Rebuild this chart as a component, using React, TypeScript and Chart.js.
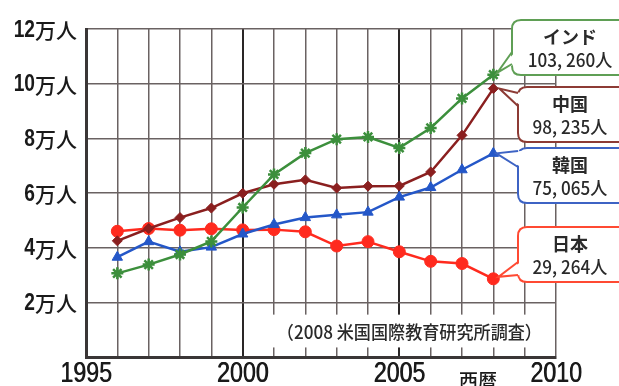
import React, { useEffect, useRef } from "react";
import { Chart, registerables } from "chart.js";

Chart.register(...registerables);

const years = [1996, 1997, 1998, 1999, 2000, 2001, 2002, 2003, 2004, 2005, 2006, 2007, 2008];
const india = [3.06, 3.38, 3.75, 4.23, 5.47, 6.68, 7.46, 7.97, 8.05, 7.65, 8.38, 9.46, 10.33];
const china = [4.25, 4.7, 5.1, 5.45, 5.99, 6.32, 6.48, 6.18, 6.25, 6.26, 6.77, 8.11, 9.82];
const korea = [3.65, 4.22, 3.85, 4.02, 4.5, 4.85, 5.1, 5.2, 5.3, 5.85, 6.2, 6.85, 7.45];
const japan = [4.6, 4.7, 4.64, 4.69, 4.65, 4.66, 4.58, 4.06, 4.22, 3.85, 3.5, 3.42, 2.86];

const seriesNames = ["インド", "中国", "韓国", "日本"];
const totals = [103260, 98235, 75065, 29264];
const yTicks = [2, 4, 6, 8, 10, 12];
const xTickLabels = [1995, 2000, 2005, 2010];
const sourceNote = "（2008 米国国際教育研究所調査）";
const xAxisTitle = "西暦";

const colors = ["#3c8f3c", "#8a1f1f", "#2457c8", "#ff2a1e"];
const boxColors = ["#5f9f55", "#8d3b35", "#3d63c4", "#ff4a33"];

const NUM = '"Liberation Sans", "DejaVu Sans", sans-serif';
const CJK = '"Noto Sans CJK JP", sans-serif';

const fmt = (n: number) => {
  const s = String(n);
  return s.slice(0, s.length - 3) + ", " + s.slice(s.length - 3) + "人";
};

const callouts = [
  { left: 512, top: 20, h: 55, ya: 52, yb: 64, tdx: 4, tdy: -2 },
  { left: 518, top: 87, h: 55, ya: 93, yb: 106, tdx: 6, tdy: 0 },
  { left: 518, top: 148, h: 55, ya: 151, yb: 167, tdx: 3, tdy: 0 },
  { left: 518, top: 227, h: 55, ya: 262, yb: 275, tdx: 5, tdy: -2 },
];

function roundRect(ctx: CanvasRenderingContext2D, x: number, y: number, w: number, h: number, r: number) {
  ctx.beginPath();
  ctx.moveTo(x + r, y);
  ctx.lineTo(x + w - r, y);
  ctx.quadraticCurveTo(x + w, y, x + w, y + r);
  ctx.lineTo(x + w, y + h - r);
  ctx.quadraticCurveTo(x + w, y + h, x + w - r, y + h);
  ctx.lineTo(x + r, y + h);
  ctx.quadraticCurveTo(x, y + h, x, y + h - r);
  ctx.lineTo(x, y + r);
  ctx.quadraticCurveTo(x, y, x + r, y);
  ctx.closePath();
}

function narrowText(ctx: CanvasRenderingContext2D, text: string, x: number, y: number, sx: number, align: "left" | "right" | "center") {
  const w = ctx.measureText(text).width * sx;
  let left = x;
  if (align === "right") left = x - w;
  if (align === "center") left = x - w / 2;
  ctx.save();
  ctx.textAlign = "left";
  ctx.translate(left, y);
  ctx.scale(sx, 1);
  ctx.fillText(text, 0, 0);
  ctx.restore();
  return w;
}

const decorPlugin = {
  id: "decor",
  beforeDatasetsDraw(chart: any) {
    const ctx = chart.ctx as CanvasRenderingContext2D;
    const xs = chart.scales.x;
    const ys = chart.scales.y;
    const x0 = xs.getPixelForValue(2000.45);
    const x1 = xs.getPixelForValue(2010) - 1;
    const yTop = ys.getPixelForValue(1.55);
    const yBot = ys.getPixelForValue(0.35);
    ctx.save();
    ctx.fillStyle = "#ffffff";
    ctx.fillRect(x0, yTop, x1 - x0, yBot - yTop);
    ctx.fillStyle = "#2a2a2a";
    ctx.font = `500 18px ${CJK}`;
    ctx.textBaseline = "middle";
    narrowText(ctx, sourceNote, (xs.getPixelForValue(2000.8) + x1) / 2 - 2, (yTop + yBot) / 2 + 1, 0.95, "center");
    ctx.restore();
  },
  afterDraw(chart: any) {
    const ctx = chart.ctx as CanvasRenderingContext2D;
    const xs = chart.scales.x;
    const ys = chart.scales.y;
    ctx.save();
    ctx.fillStyle = "#1a1a1a";
    ctx.textBaseline = "middle";
    yTicks.forEach((v) => {
      const y = ys.getPixelForValue(v);
      ctx.font = `500 21px ${CJK}`;
      const unit = "万人";
      const uw = narrowText(ctx, unit, 77, y + 1, 1.0, "right");
      ctx.font = `bold 24px ${NUM}`;
      narrowText(ctx, String(v), 77 - uw, y + 1, 0.8, "right");
    });
    ctx.textBaseline = "top";
    ctx.font = `29px ${NUM}`;
    xTickLabels.forEach((v) => {
      const x = xs.getPixelForValue(v);
      narrowText(ctx, String(v), x, 359, 0.8, "center");
      narrowText(ctx, String(v), x + 0.6, 359, 0.8, "center");
    });
    ctx.font = `500 19px ${CJK}`;
    ctx.textAlign = "center";
    ctx.fillText(xAxisTitle, 478, 371);

    callouts.forEach((c, i) => {
      const meta = chart.getDatasetMeta(i);
      const pt = meta.data[meta.data.length - 1];
      const tipX = pt.x + c.tdx;
      const tipY = pt.y + c.tdy;
      ctx.lineWidth = 2;
      ctx.strokeStyle = boxColors[i];
      ctx.fillStyle = "#ffffff";
      roundRect(ctx, c.left, c.top, 140, c.h, 9);
      ctx.fill();
      ctx.stroke();
      ctx.beginPath();
      ctx.moveTo(c.left + 3, c.ya);
      ctx.lineTo(tipX, tipY);
      ctx.lineTo(c.left + 3, c.yb);
      ctx.closePath();
      ctx.fill();
      ctx.beginPath();
      ctx.moveTo(c.left, c.ya);
      ctx.lineTo(tipX, tipY);
      ctx.lineTo(c.left, c.yb);
      ctx.stroke();
      ctx.fillStyle = "#2a2a2a";
      ctx.textBaseline = "middle";
      ctx.font = `bold 18px ${CJK}`;
      narrowText(ctx, seriesNames[i], 570, c.top + 17, 1.0, "center");
      ctx.font = `500 18px ${CJK}`;
      narrowText(ctx, fmt(totals[i]), 570, c.top + 40, 0.95, "center");
    });
    ctx.restore();
  },
};

export default function App() {
  const ref = useRef<HTMLCanvasElement>(null);
  useEffect(() => {
    document.body.style.margin = "0";
    const mk = (vals: number[]) => years.map((x, i) => ({ x, y: vals[i] }));
    const series = [india, china, korea, japan];
    const styles: any[] = ["star", "rectRot", "triangle", "circle"];
    const radii = [6, 5, 6, 6];
    const chart = new Chart(ref.current!, {
      type: "line",
      data: {
        datasets: series.map((s, i) => ({
          label: seriesNames[i],
          data: mk(s),
          borderColor: colors[i],
          backgroundColor: colors[i],
          borderWidth: 2.5,
          pointStyle: styles[i],
          pointRadius: radii[i],
          pointBorderWidth: i === 0 ? 2.5 : 1,
          pointBorderColor: colors[i],
          pointBackgroundColor: colors[i],
          tension: 0,
          clip: false as any,
        })),
      },
      options: {
        animation: false,
        responsive: false,
        devicePixelRatio: 1,
        layout: { padding: { left: 86, right: 63, top: 29, bottom: 29 } },
        plugins: { legend: { display: false }, tooltip: { enabled: false } },
        scales: {
          x: {
            type: "linear",
            min: 1995,
            max: 2010,
            ticks: { stepSize: 1, display: false },
            grid: {
              drawTicks: false,
              color: (c: any) => (c.tick && (c.tick.value === 2000 || c.tick.value === 2005) ? "#2a2626" : "#6a6262"),
              lineWidth: (c: any) => (c.tick && (c.tick.value === 2000 || c.tick.value === 2005) ? 2 : 1.5),
            },
            border: { display: true, color: "#3a3636", width: 3 },
          },
          y: {
            min: 0,
            max: 12,
            ticks: { stepSize: 2, display: false },
            grid: { drawTicks: false, color: "#6a6262", lineWidth: 1.5 },
            border: { display: true, color: "#3a3636", width: 3 },
          },
        },
      },
      plugins: [decorPlugin],
    });
    return () => chart.destroy();
  }, []);
  return (
    <div style={{ position: "relative", width: 619, height: 386 }}>
      <canvas ref={ref} width={619} height={386} style={{ width: 619, height: 386, display: "block" }} />
    </div>
  );
}
